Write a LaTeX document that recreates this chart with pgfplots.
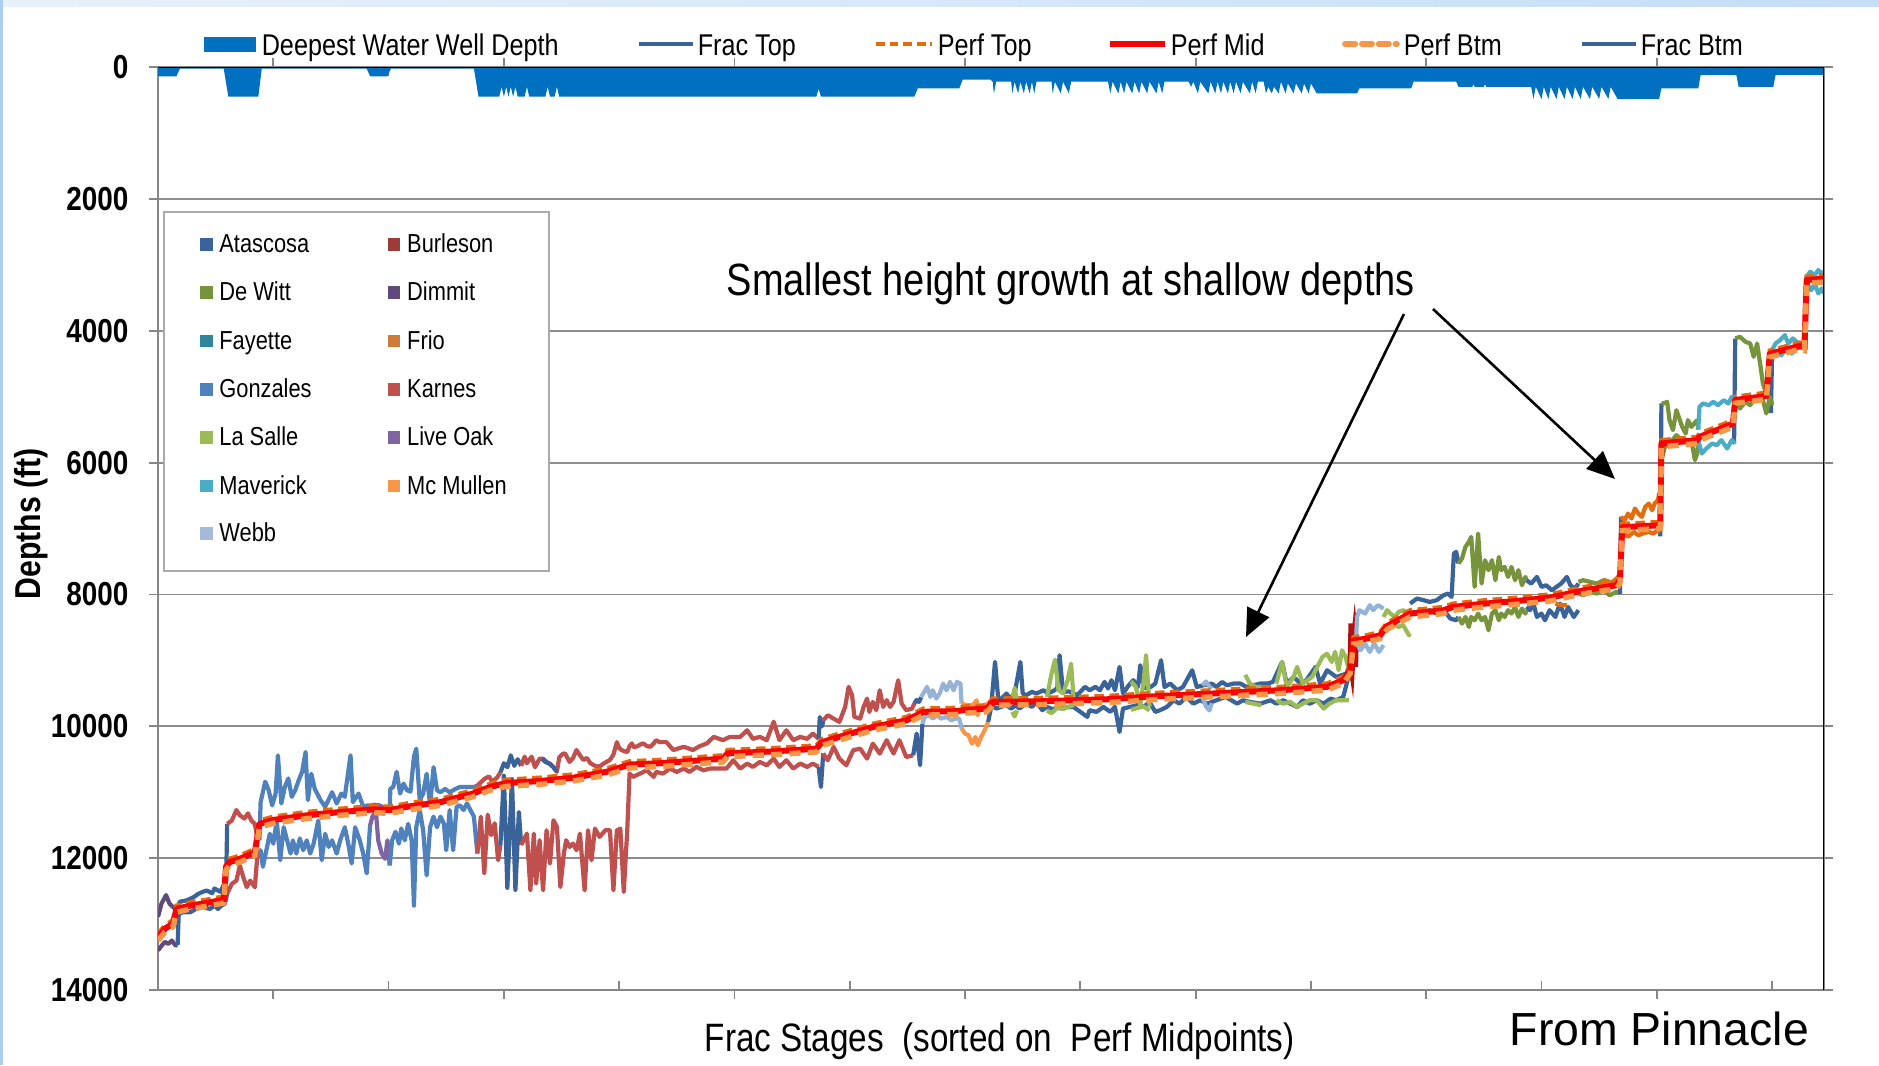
\documentclass[border=0pt]{standalone}
\usepackage{pgfplots}
\pgfplotsset{compat=1.18}
\usepackage{pgfplotstable}
\usepackage{fontspec}
\setmainfont{Liberation Sans}[FakeStretch=0.84]
\newfontfamily\widefont{Liberation Sans}
\usetikzlibrary{arrows.meta}

% county colours
\definecolor{atascosa}{RGB}{58,99,153}
\definecolor{burleson}{RGB}{158,59,57}
\definecolor{burlesonline}{RGB}{180,16,16}
\definecolor{dewitt}{RGB}{119,147,60}
\definecolor{dimmit}{RGB}{96,74,123}
\definecolor{fayette}{RGB}{49,133,155}
\definecolor{frio}{RGB}{228,108,10}
\definecolor{friokey}{RGB}{208,122,56}
\definecolor{gonzales}{RGB}{79,129,189}
\definecolor{karnes}{RGB}{192,80,77}
\definecolor{lasalle}{RGB}{155,187,89}
\definecolor{liveoak}{RGB}{128,100,162}
\definecolor{maverick}{RGB}{75,172,198}
\definecolor{mcmullen}{RGB}{247,150,70}
\definecolor{webb}{RGB}{149,179,215}
\definecolor{webbkey}{RGB}{167,185,217}
% series colours
\definecolor{wellblue}{RGB}{0,112,192}
\definecolor{perfmid}{RGB}{255,0,0}
\definecolor{perftop}{RGB}{228,108,10}
\definecolor{perfbtm}{RGB}{247,150,70}
\definecolor{axisgray}{RGB}{134,134,134}
\definecolor{gridgray}{RGB}{140,140,140}
\definecolor{boxgray}{RGB}{170,170,170}
% slide frame
\definecolor{bandleft}{RGB}{232,241,251}
\definecolor{bandright}{RGB}{196,222,246}
\definecolor{stripblue}{RGB}{172,206,240}

% deepest water well depth along the stages
\pgfplotstableread{
stage depth
0 140
16 140
19 25
57 25
61 450
87 450
90 25
181 25
184 140
199 140
202 25
274 25
278 450
296 450
298 300
300 450
302 300
304 450
306 300
308 450
310 300
312 450
318 450
320 300
322 450
336 450
338 300
340 450
344 450
346 300
348 450
571 450
573 330
575 450
656 450
659 323
695 323
698 190
722 190
724 223
725 400
727 223
740 223
741 400
743 223
746 400
748 223
751 400
753 223
756 400
758 223
760 400
762 223
775 223
776 400
778 223
783 400
785 223
790 400
792 223
824 223
826 400
828 223
833 400
835 223
838 400
840 223
845 400
847 223
851 400
853 223
858 400
860 223
866 400
868 223
871 400
873 223
894 223
896 300
898 223
902 400
904 223
911 400
913 223
917 400
919 223
922 400
924 223
928 400
930 223
933 400
935 223
939 400
941 223
947 400
949 223
952 400
954 223
959 223
961 400
963 300
966 400
968 300
972 400
974 223
978 400
980 250
985 400
987 250
992 400
994 250
998 400
1000 250
1005 400
1040 400
1042 323
1087 323
1089 223
1126 223
1128 300
1140 300
1141 260
1142 300
1150 300
1151 260
1152 300
1191 300
1193 485
1195 300
1200 485
1202 300
1206 485
1208 300
1213 485
1215 300
1220 485
1222 300
1227 485
1229 300
1234 485
1236 300
1242 485
1244 300
1250 485
1252 300
1258 485
1260 300
1266 485
1302 485
1304 323
1336 323
1338 121
1369 121
1371 300
1401 300
1403 121
1445 121
}\well

% perforation top, midpoint and bottom
\pgfplotstableread{
stage top mid btm
0 13150 13200 13250
6 13020 13070 13120
13 12940 12990 13040
16 12720 12770 12820
28 12670 12720 12770
42 12630 12680 12730
57 12580 12630 12680
59 12080 12130 12180
62 12010 12060 12110
71 11960 12010 12060
84 11860 11910 11960
88 11430 11480 11530
100 11370 11420 11470
129 11300 11350 11400
158 11250 11300 11350
187 11210 11260 11310
201 11220 11270 11320
216 11170 11220 11270
245 11100 11150 11200
273 10970 11020 11070
288 10870 10920 10970
302 10810 10860 10910
331 10780 10830 10880
360 10730 10780 10830
389 10640 10690 10740
409 10530 10580 10630
435 10510 10560 10610
490 10440 10490 10540
494 10360 10410 10460
534 10330 10380 10430
571 10290 10340 10390
576 10190 10240 10290
591 10110 10160 10210
620 9960 10010 10060
649 9860 9910 9960
664 9730 9780 9830
693 9720 9770 9820
700 9700 9750 9800
719 9680 9730 9780
724 9580 9630 9680
765 9570 9620 9670
823 9540 9590 9640
869 9490 9540 9590
918 9450 9500 9550
976 9400 9450 9500
1014 9350 9400 9450
1028 9250 9300 9350
1034 9100 9150 9200
1037 8650 8700 8750
1048 8620 8670 8720
1060 8570 8620 8670
1066 8430 8480 8530
1086 8240 8290 8340
1115 8190 8240 8290
1123 8140 8190 8240
1150 8090 8140 8190
1178 8050 8100 8150
1207 8000 8050 8100
1236 7890 7940 7990
1265 7810 7860 7910
1268 7730 7780 7830
1270 6930 6980 7030
1303 6900 6950 7000
1304 5660 5710 5760
1335 5610 5660 5710
1337 5560 5610 5660
1366 5360 5410 5460
1368 5000 5050 5100
1395 4940 4990 5040
1398 4300 4350 4400
1424 4180 4230 4280
1428 4200 4250 4300
1430 3180 3230 3280
1445 3160 3210 3260
}\perf

\newcommand{\legfont}{\fontsize{7.5}{9}\selectfont}
\newcommand{\cntyfont}{\fontsize{6.5}{8}\selectfont}

\begin{document}
\begin{tikzpicture}[x=0.25pt,y=-0.25pt]
\useasboundingbox (0,0) rectangle (1879,1065);
\fill[white] (0,0) rectangle (1879,1065);
% slide frame
\shade[left color=bandleft, right color=bandright] (0,0) rectangle (1879,6);
\fill[stripblue] (0,0) rectangle (3,1065);

\begin{axis}[
  at={(39.5pt,-247.5pt)}, anchor=south west,
  scale only axis, width=416.5pt, height=230.75pt,
  xmin=0, xmax=1445, ymin=0, ymax=14000, y dir=reverse,
  xtick={100,300,...,1300}, xticklabels={},
  extra x ticks={200,400,...,1400}, extra x tick labels={},
  extra x tick style={tick align=inside},
  ytick={0,2000,...,14000}, scaled y ticks=false,
  yticklabel={\pgfmathprintnumber[assume math mode=true,fixed,precision=0,1000 sep={}]{\tick}},
  yticklabel style={font=\bfseries\fontsize{8.3}{10}\selectfont, anchor=east, inner sep=0pt, xshift=-5pt},
  tick align=outside, major tick length=2.2pt,
  tick style={draw=axisgray, line width=0.45pt},
  axis line style={draw=axisgray, line width=0.5pt},
  ymajorgrids, major grid style={draw=gridgray, line width=0.45pt},
  fr/.style={line width=1.05pt, line join=round, no markers},
]
% deepest water well depth
\addplot[fill=wellblue, draw=none, no markers] table[x=stage, y=depth] {\well} \closedcycle;

% ---- frac top / frac bottom by county ----
% Dimmit
\addplot[fr, dimmit] coordinates {(0,12890) (3,12690) (7,12560) (10,12690) (13,12740) (16,12790)};
\addplot[fr, dimmit] coordinates {(0,13400) (3,13330) (6,13270) (9,13300) (12,13250) (15,13320) (17,13320)};
% Atascosa
\addplot[fr, atascosa] coordinates {(16,12790) (19,12660) (25,12640) (31,12590) (35,12540) (39,12510) (42,12490) (47,12530) (49,12460) (54,12510) (57,12410) (59,12460) (60,11480)};
\addplot[fr, atascosa] coordinates {(17,13320) (18,12840) (22,12820) (28,12820) (33,12770) (39,12740) (45,12770) (49,12720) (52,12770) (55,12720) (58,12690) (60,12540)};
% Karnes
\addplot[fr, karnes] coordinates {(60,11480) (64,11430) (68,11270) (71,11350) (75,11400) (78,11320) (81,11430) (84,11480) (86,11680) (88,11730)};
\addplot[fr, karnes] coordinates {(60,12540) (64,12390) (68,12340) (71,12110) (74,12290) (77,12440) (80,12340) (84,12440) (86,12000) (88,11880)};
% Gonzales
\addplot[fr, gonzales] coordinates {(88,11730) (89,11150) (93,10840) (96,10970) (99,11200) (102,11020) (104,10440) (107,11170) (110,10920) (113,10790) (116,11070) (119,10970) (122,10820) (125,10690) (128,10390) (130,11120) (133,10720) (136,10950) (141,11120) (145,11220) (151,11000) (155,11170) (159,11020) (162,11070) (167,10440) (169,11150) (174,11020) (178,11220) (182,11200) (185,11200)};
\addplot[fr, gonzales] coordinates {(88,11880) (89,11880) (91,12130) (94,11880) (97,11630) (100,11780) (103,11430) (106,12030) (109,11530) (112,11730) (115,11930) (117,11730) (120,11930) (123,11700) (126,11880) (129,11730) (132,11930) (135,11780) (139,11430) (142,12030) (145,11630) (148,11830) (151,11730) (155,11930) (158,11730) (162,11530) (165,11780) (168,12080) (171,11530) (175,11730) (178,11930) (181,12230) (184,11500)};
% Live Oak
\addplot[fr, liveoak] coordinates {(185,11200) (188,11190) (192,11200) (196,11230) (199,11260) (201,11280)};
\addplot[fr, liveoak] coordinates {(184,11500) (186,11370) (189,11290) (191,11730) (194,11930) (197,12010) (199,11730) (201,12110)};
% Gonzales
\addplot[fr, gonzales] coordinates {(201,11280) (201.5,10950) (204,10920) (207,10690) (210,11020) (213,10870) (216,10970) (219,10990) (222,10460) (224,10340) (227,11120) (230,11020) (233,10720) (236,11200) (239,10620) (242,10970) (245,11000) (249,10950) (253,11000) (258,10950) (262,10920) (268,10920) (274,10920) (277,10900)};
\addplot[fr, gonzales] coordinates {(201,12110) (203,11730) (206,11600) (209,11780) (211,11550) (214,11730) (217,11480) (220,11730) (222,12720) (224,11530) (227,11270) (230,11580) (233,12260) (236,11530) (239,11370) (242,11530) (245,11370) (248,11480) (250,11880) (253,11270) (256,11880) (259,11220) (262,11200) (265,11270) (268,11170) (271,11270) (274,11370) (277,11930)};
% Karnes
\addplot[fr, karnes] coordinates {(277,10900) (280,10850) (283,10800) (287,10760) (290,10840) (294,10780) (297,10700)};
\addplot[fr, karnes] coordinates {(277,11930) (280,11370) (283,12230) (286,11340) (289,11650) (292,11470) (295,12030) (297,11800)};
% Atascosa
\addplot[fr, atascosa] coordinates {(297,10700) (300,10560) (303,10620) (306,10440) (309,10600) (312,10500) (315,10600)};
\addplot[fr, atascosa] coordinates {(297,11800) (300,10750) (303,12450) (307,10800) (310,12480) (313,11300) (315,11800)};
% Karnes
\addplot[fr, karnes] coordinates {(315,10600) (318,10460) (320,10560) (324,10460) (327,10620) (331,10490) (334,10490) (337,10540) (340,10570) (343,10620) (346,10690) (348,10470) (351,10420) (353,10410) (357,10540) (360,10480) (363,10360) (366,10440) (369,10510) (372,10480) (375,10560) (378,10590) (381,10610) (384,10600) (386,10570) (389,10540) (392,10510) (395,10430) (398,10240) (400,10330) (402,10360) (405,10380) (407,10390) (409,10300) (411,10260) (413,10320) (416,10300) (419,10270) (421,10260) (424,10300) (427,10310) (430,10260) (432,10210) (435,10240) (441,10240) (447,10360) (456,10310) (464,10360) (470,10300) (476,10260) (482,10160) (490,10210) (496,10160) (505,10160) (511,10060) (516,10190) (522,10160) (528,10210) (534,9930) (539,10210) (545,10060) (551,10210) (557,10160) (563,10190) (568,10110) (573,10190)};
\addplot[fr, karnes] coordinates {(315,11800) (320,11627) (323,12487) (326,11627) (328,12386) (331,11728) (334,12487) (337,11577) (340,12082) (343,11425) (346,11526) (349,12437) (352,11931) (354,11728) (357,11830) (360,11779) (363,11880) (366,11627) (370,12487) (373,11577) (376,12032) (379,11551) (383,11678) (388,11577) (392,11577) (395,12487) (398,11577) (401,11551) (404,12512) (407,11577) (409,10717) (412,10767) (418,10717) (424,10667) (430,10768) (432,10692) (438,10717) (444,10641) (450,10692) (456,10641) (461,10692) (467,10616) (473,10667) (479,10641) (487,10641) (493,10641) (499,10515) (505,10641) (511,10565) (516,10616) (522,10540) (528,10591) (534,10490) (539,10616) (545,10515) (551,10641) (557,10565) (563,10616) (568,10565) (573,10616)};
% Atascosa
\addplot[fr, atascosa] coordinates {(333,10490) (336,10540) (340,10570) (343,10620) (346,10690)};
\addplot[fr, atascosa] coordinates {(573,10190) (574,9860) (576,10000) (577,9910)};
\addplot[fr, atascosa] coordinates {(573,10616) (575,10920) (577,10410)};
% Karnes
\addplot[fr, karnes] coordinates {(577,9908) (581,9832) (586,9883) (591,9933) (596,9706) (599,9402) (602,9529) (604,9857) (609,9883) (612,9706) (615,9579) (617,9781) (620,9630) (623,9756) (626,9453) (629,9706) (632,9604) (635,9706) (638,9630) (642,9301) (645,9655) (649,9756) (654,9731) (656,9655)};
\addplot[fr, karnes] coordinates {(577,10414) (581,10515) (586,10313) (591,10490) (597,10591) (603,10363) (609,10338) (615,10490) (620,10262) (626,10414) (632,10211) (638,10414) (643,10211) (649,10465) (655,10439)};
% Atascosa
\addplot[fr, atascosa] coordinates {(656,9655) (658,9600) (660,9630) (662,9560)};
\addplot[fr, atascosa] coordinates {(655,10439) (658,10110) (661,10590) (663,9960)};
% Webb
\addplot[fr, webb] coordinates {(662,9554) (667,9402) (670,9554) (672,9453) (675,9579) (678,9503) (681,9352) (684,9453) (687,9326) (690,9453) (693,9326) (696,9352) (697,9655)};
\addplot[fr, webb] coordinates {(663,9960) (665,9857) (669,9832) (672,9883) (676,9832) (679,9883) (684,9857) (688,9908) (692,9883) (695,9883) (697,10034)};
% Mc Mullen
\addplot[fr, mcmullen] coordinates {(697,9655) (701,9680) (707,9680) (710,9604) (711,9832) (713,9706) (717,9680) (720,9655)};
\addplot[fr, mcmullen] coordinates {(697,10034) (700,10110) (703,10135) (706,10262) (709,10161) (711,10287) (714,10161) (717,10060) (720,9933)};
% Atascosa
\addplot[fr, atascosa] coordinates {(720,9655) (723,9630) (726,9023) (729,9630) (733,9554) (736,9503) (739,9579) (743,9503) (748,9023) (750,9503) (753,9529) (758,9478) (762,9503) (765,9478) (768,9453) (772,9500) (777,9460) (780,9420) (782,8922) (785,9480) (790,9470) (794,9500) (797,9529) (800,9478) (804,9402) (808,9453) (813,9402) (817,9453) (821,9326) (824,9427) (827,9301) (830,9453) (834,9099) (837,9503) (842,9377) (846,9301) (850,9400) (852,9073) (855,9420) (858,9420) (861,9403) (865,9352) (870,8998) (873,9403) (878,9352) (884,9453) (889,9403) (897,9150) (901,9403) (907,9377) (914,9352) (918,9403) (923,9327) (927,9377) (933,9352) (939,9352) (944,9403) (950,9377) (956,9352) (962,9352) (967,9327) (975,9023) (979,9352) (985,9251) (991,9352) (996,9302) (1004,9099) (1008,9352) (1014,9150) (1022,9251) (1031,9200) (1034,9000)};
\addplot[fr, atascosa] coordinates {(720,9933) (723,9680) (727,9731) (731,9706) (736,9680) (740,9731) (744,9680) (747,9731) (753,9655) (758,9706) (762,9630) (767,9756) (771,9706) (776,9740) (780,9720) (785,9700) (790,9710) (794,9706) (800,9781) (806,9857) (808,9756) (814,9781) (820,9706) (826,9781) (830,9706) (834,10085) (837,9731) (843,9706) (849,9680) (855,9706) (860,9630) (865,9781) (869,9757) (875,9706) (881,9605) (886,9656) (892,9554) (898,9656) (904,9605) (910,9656) (918,9605) (926,9554) (936,9656) (941,9605) (947,9630) (956,9656) (965,9605) (970,9656) (976,9605) (982,9656) (988,9706) (993,9605) (999,9656) (1005,9605) (1011,9656) (1017,9580) (1022,9605) (1028,9554) (1034,9150)};
% La Salle
\addplot[fr, lasalle] coordinates {(741,9600) (743,9420) (745,9600)};
\addplot[fr, lasalle] coordinates {(741,9780) (743,9850) (745,9760)};
\addplot[fr, lasalle] coordinates {(771,9560) (775,9200) (778,8990) (781,9450) (785,9500) (789,9300) (792,9050) (794,9550)};
\addplot[fr, lasalle] coordinates {(771,9760) (775,9800) (780,9720) (785,9740) (790,9700) (794,9680)};
\addplot[fr, lasalle] coordinates {(844,9320) (848,9400) (852,9680) (855,9300) (857,8920) (860,9700)};
\addplot[fr, lasalle] coordinates {(844,9750) (850,9720) (855,9700) (860,9760)};
\addplot[fr, lasalle] coordinates {(943,9220) (947,9350) (952,9403) (957,9403)};
\addplot[fr, lasalle] coordinates {(943,9630) (950,9656) (957,9680)};
\addplot[fr, lasalle] coordinates {(970,9352) (975,9023) (979,9403) (985,9251) (988,9099) (993,9352) (1001,9251) (1010,8947) (1014,8900) (1018,9023) (1021,8870) (1024,9150) (1027,8846) (1030,8947) (1033,9150)};
\addplot[fr, lasalle] coordinates {(970,9605) (976,9656) (982,9630) (988,9706) (993,9656) (999,9605) (1005,9605) (1011,9731) (1016,9656) (1022,9605) (1028,9605) (1033,9605)};
% Webb
\addplot[fr, webb] coordinates {(906,9380) (909,9320) (912,9400) (914,9430)};
\addplot[fr, webb] coordinates {(906,9560) (909,9700) (912,9760) (914,9650)};
% Burleson
\addplot[line width=1.4pt, burlesonline, no markers] coordinates {(1034,9150) (1035,8440) (1036.5,8800) (1038,8540) (1039,8700)};
\addplot[line width=1.4pt, burlesonline, no markers] coordinates {(1034,9000) (1035.5,9170) (1037,8700) (1038.5,9100) (1039,8750)};
% Webb
\addplot[fr, webb] coordinates {(1039,8750) (1040,8341) (1042,8239) (1047,8290) (1051,8163) (1054,8239) (1058,8163) (1063,8214)};
\addplot[fr, webb] coordinates {(1040,8745) (1043,8846) (1047,8745) (1051,8872) (1055,8745) (1059,8872) (1063,8770)};
% La Salle
\addplot[fr, lasalle] coordinates {(1063,8341) (1066,8239) (1069,8290) (1073,8341) (1076,8265) (1080,8239) (1085,8290) (1086,8239)};
\addplot[fr, lasalle] coordinates {(1063,8467) (1067,8518) (1071,8442) (1076,8492) (1080,8467) (1085,8619) (1086,8594)};
% Atascosa
\addplot[fr, atascosa] coordinates {(1086,8138) (1092,8062) (1098,8088) (1103,8113) (1109,8088) (1115,8012) (1119,7986) (1122,8037) (1124,7380) (1126,7354) (1128,7530)};
\addplot[fr, atascosa] coordinates {(1086,8290) (1092,8265) (1098,8265) (1103,8239) (1109,8290) (1115,8239) (1121,8366) (1126,8391) (1128,8341)};
% De Witt
\addplot[fr, dewitt] coordinates {(1128,7531) (1131,7455) (1134,7278) (1137,7202) (1139,7127) (1142,7885) (1145,7076) (1148,7835) (1151,7481) (1154,7632) (1157,7481) (1160,7784) (1163,7430) (1165,7632) (1168,7582) (1171,7734) (1174,7582) (1177,7784) (1180,7632) (1183,7860) (1186,7734) (1187,7784)};
\addplot[fr, dewitt] coordinates {(1128,8341) (1131,8442) (1134,8341) (1137,8492) (1139,8341) (1142,8391) (1145,8290) (1148,8391) (1151,8341) (1154,8543) (1157,8290) (1160,8239) (1163,8391) (1165,8290) (1168,8341) (1171,8239) (1174,8290) (1177,8189) (1180,8341) (1183,8214) (1186,8290) (1187,8239)};
% Atascosa
\addplot[fr, atascosa] coordinates {(1187,7784) (1191,7835) (1196,7734) (1200,7885) (1204,7860) (1209,7936) (1213,7885) (1217,7835) (1222,7734) (1225,7860) (1229,7911) (1232,7835)};
\addplot[fr, atascosa] coordinates {(1187,8189) (1190,8239) (1193,8138) (1196,8341) (1200,8290) (1203,8391) (1207,8239) (1212,8341) (1216,8138) (1220,8341) (1223,8189) (1228,8341) (1232,8239)};
% De Witt
\addplot[fr, dewitt] coordinates {(1232,7809) (1236,7784) (1242,7809) (1248,7835) (1254,7784) (1259,7809) (1265,7835) (1268,7784)};
\addplot[fr, dewitt] coordinates {(1232,7986) (1236,8012) (1242,7961) (1248,7986) (1254,7936) (1259,8012) (1265,7961) (1268,7986)};
% Frio
\addplot[fr, frio] coordinates {(1187,8012) (1190,8113) (1193,8060)};
\addplot[fr, frio] coordinates {(1212,8138) (1216,8160) (1222,8163)};
\addplot[fr, frio] coordinates {(1251,7936) (1255,7784) (1260,7835) (1265,7760) (1268,7700)};
% Atascosa steps
\addplot[fr, atascosa] coordinates {(1268,7990) (1269,6820)};
\addplot[fr, atascosa] coordinates {(1303,7120) (1304,5100)};
\addplot[fr, atascosa] coordinates {(1367,5710) (1368,4120)};
\addplot[fr, atascosa] coordinates {(1399,5250) (1400,4300)};
\addplot[fr, atascosa] coordinates {(1429,4290) (1430,3150)};
% Frio
\addplot[fr, frio] coordinates {(1269,6823) (1272,6874) (1275,6773) (1278,6848) (1281,6697) (1284,6773) (1287,6823) (1290,6671) (1293,6621) (1296,6722) (1298,6621) (1301,6570) (1302,6469)};
\addplot[fr, frio] coordinates {(1269,7025) (1272,7076) (1275,7127) (1280,7051) (1284,7101) (1288,7076) (1293,7051) (1297,7076) (1301,7025) (1303,7050)};
% De Witt
\addplot[fr, dewitt] coordinates {(1304,5103) (1306,5100) (1309,5078) (1311,5356) (1314,5508) (1317,5205) (1322,5457) (1325,5559) (1327,5356) (1330,5457) (1335,5356) (1336,5500)};
\addplot[fr, dewitt] coordinates {(1304,5963) (1307,5761) (1311,5710) (1317,5584) (1322,5660) (1326,5685) (1330,5660) (1333,5963) (1335,5862) (1336,5660)};
% Maverick
\addplot[fr, maverick] coordinates {(1336,5500) (1337,5154) (1340,5103) (1345,5129) (1349,5078) (1353,5129) (1358,5053) (1362,5103) (1365,5002) (1368,5053)};
\addplot[fr, maverick] coordinates {(1336,5660) (1339,5862) (1343,5786) (1348,5710) (1352,5735) (1356,5660) (1361,5786) (1365,5660) (1368,5710)};
% De Witt
\addplot[fr, dewitt] coordinates {(1368,4117) (1372,4092) (1377,4168) (1381,4193) (1384,4395) (1387,4193) (1390,4547) (1392,4800) (1395,4952) (1398,5053) (1400,5103)};
\addplot[fr, dewitt] coordinates {(1368,5053) (1372,5179) (1377,5078) (1381,5129) (1384,5053) (1388,5002) (1392,5053) (1395,5255) (1398,5002) (1400,5129)};
% Maverick
\addplot[fr, maverick] coordinates {(1400,4294) (1403,4193) (1407,4142) (1411,4067) (1414,4193) (1418,4117) (1423,4193) (1427,4243) (1429,4243)};
\addplot[fr, maverick] coordinates {(1400,4370) (1404,4319) (1408,4370) (1413,4243) (1417,4345) (1421,4269) (1426,4243) (1429,4269)};
\addplot[fr, maverick] coordinates {(1430,3181) (1433,3106) (1437,3156) (1440,3080) (1443,3131) (1445,3106)};
\addplot[fr, maverick] coordinates {(1430,3283) (1434,3384) (1437,3283) (1440,3434) (1443,3358) (1445,3434)};

% ---- perforations ----
\addplot[perftop, line width=1.1pt, dash pattern=on 2.4pt off 1.4pt, no markers] table[x=stage, y=top] {\perf};
\addplot[perfmid, line width=1.5pt, line join=round, no markers] table[x=stage, y=mid] {\perf};
\addplot[perfbtm, line width=1.35pt, dash pattern=on 2.8pt off 1.8pt, no markers] table[x=stage, y=btm] {\perf};

% plot area border on top and right
\draw[black, line width=0.6pt] (axis cs:0,0) -- (axis cs:1445,0) -- (axis cs:1445,14000);
\end{axis}

% ---- series legend ----
\fill[wellblue] (204,37) rectangle (256,52);
\node[anchor=base west, inner sep=0pt, font=\legfont] at (261,55) {Deepest Water Well Depth};
\draw[atascosa, line width=1.1pt] (639,44) -- (693,44);
\node[anchor=base west, inner sep=0pt, font=\legfont] at (697,55) {Frac Top};
\draw[perftop, line width=1.0pt, dash pattern=on 2.2pt off 1.2pt] (876,44) -- (932,44);
\node[anchor=base west, inner sep=0pt, font=\legfont] at (937,55) {Perf Top};
\draw[perfmid, line width=1.4pt] (1110,44) -- (1165,44);
\node[anchor=base west, inner sep=0pt, font=\legfont] at (1170,55) {Perf Mid};
\draw[perfbtm, line width=1.4pt, dash pattern=on 2.6pt off 1.6pt, line cap=round] (1345,44) -- (1397,44);
\node[anchor=base west, inner sep=0pt, font=\legfont] at (1403,55) {Perf Btm};
\draw[atascosa, line width=1.1pt] (1582,44) -- (1636,44);
\node[anchor=base west, inner sep=0pt, font=\legfont] at (1640,55) {Frac Btm};

% ---- county legend ----
\draw[boxgray, line width=0.4pt, fill=white] (164,212) rectangle (549,571);
\foreach \yc/\ca/\na/\cb/\nb in {
  244.5/atascosa/Atascosa/burleson/Burleson,
  292.5/dewitt/De Witt/dimmit/Dimmit,
  341/fayette/Fayette/friokey/Frio,
  389.3/gonzales/Gonzales/karnes/Karnes,
  437.5/lasalle/La Salle/liveoak/Live Oak,
  486/maverick/Maverick/mcmullen/Mc Mullen}{
  \fill[\ca] (200,\yc-6.2) rectangle (212.5,\yc+6.2);
  \node[anchor=base west, inner sep=0pt, font=\cntyfont] at (218.6,\yc+8.2) {\na};
  \fill[\cb] (387.5,\yc-6.2) rectangle (400,\yc+6.2);
  \node[anchor=base west, inner sep=0pt, font=\cntyfont] at (406.4,\yc+8.2) {\nb};
}
\fill[webbkey] (200,533.5-6.2) rectangle (212.5,533.5+6.2);
\node[anchor=base west, inner sep=0pt, font=\cntyfont] at (218.6,541.7) {Webb};

% ---- annotation ----
\node[anchor=base west, inner sep=0pt, font=\fontsize{11.3}{13}\selectfont] at (726,295) {Smallest height growth at shallow depths};
\draw[black, line width=0.65pt, -{Triangle[length=7pt, width=6pt]}] (1404,314) -- (1246,637);
\draw[black, line width=0.65pt, -{Triangle[length=7pt, width=6pt]}] (1433,309) -- (1615,479);

% ---- axis titles ----
\node[rotate=90, inner sep=0pt, font=\bfseries\fontsize{9}{11}\selectfont] at (31,524) {Depths (ft)};
\node[anchor=base west, inner sep=0pt, font=\fontsize{9.9}{12}\selectfont] at (704,1051) {Frac Stages\ \ (sorted on\ \ Perf Midpoints)};
\node[anchor=base west, inner sep=0pt, font=\widefont\fontsize{11.6}{14}\selectfont] at (1509,1045) {From Pinnacle};
\end{tikzpicture}
\end{document}
